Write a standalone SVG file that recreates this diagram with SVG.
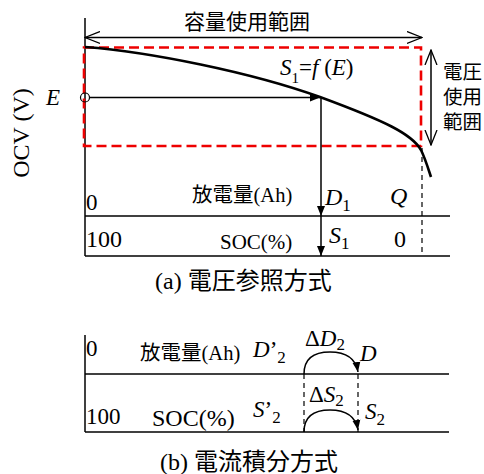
<svg xmlns="http://www.w3.org/2000/svg" width="484" height="474" viewBox="0 0 484 474">
<style>
text{font-family:'Liberation Serif','Times New Roman','DejaVu Serif','Noto Sans CJK JP',serif;fill:#000}
.it{font-style:italic}
.ln{stroke:#000;stroke-width:1.5;fill:none}
.dash{stroke:#000;stroke-width:1.2;stroke-dasharray:5,4;fill:none}
</style>
<defs>
<marker id="fa" viewBox="0 0 10 10" refX="10" refY="5" markerWidth="10" markerHeight="10" markerUnits="userSpaceOnUse" orient="auto"><path d="M0,1 L10,5 L0,9 z" fill="#000"/></marker>
<marker id="oa" viewBox="0 0 16 14" refX="15" refY="7" markerWidth="16" markerHeight="14" markerUnits="userSpaceOnUse" orient="auto"><path d="M0,1 L15,7 L0,13" fill="none" stroke="#000" stroke-width="1.3"/></marker>
<marker id="oas" viewBox="0 0 16 14" refX="15" refY="7" markerWidth="16" markerHeight="14" markerUnits="userSpaceOnUse" orient="auto-start-reverse"><path d="M0,1 L15,7 L0,13" fill="none" stroke="#000" stroke-width="1.3"/></marker>
</defs>
<g id="axis">
<line class="ln" x1="85" y1="18" x2="85" y2="256"/>
<text x="29" y="133" font-size="24" text-anchor="middle" transform="rotate(-90 29 133)">OCV (V)</text>
</g>
<g id="range-capacity">
<line class="ln" x1="85" y1="37.5" x2="422" y2="37.5" marker-start="url(#oas)" marker-end="url(#oa)"/>
<text x="247" y="29" font-size="21" text-anchor="middle">容量使用範囲</text>
</g>
<g id="range-voltage">
<line class="ln" x1="431" y1="50" x2="431" y2="145" marker-start="url(#oas)" marker-end="url(#oa)"/>
<text x="443" y="79" font-size="19.5">電圧</text>
<text x="443" y="104" font-size="19.5">使用</text>
<text x="443" y="129" font-size="19.5">範囲</text>
</g>
<g id="red-box">
<rect x="84" y="47.5" width="337" height="98.5" fill="none" stroke="#e00" stroke-width="2.6" stroke-dasharray="10,5"/>
</g>
<g id="curve">
<path d="M85,47 C150,52 250,72 320,97 C385,121 412,134 421,150 C425,158 428,168 431,177" fill="none" stroke="#000" stroke-width="2.6"/>
<text x="280" y="75" font-size="23"><tspan class="it">S</tspan><tspan font-size="15" dy="8">1</tspan><tspan dy="-8">=</tspan><tspan class="it">f</tspan> (<tspan class="it">E</tspan>)</text>
</g>
<g id="point-E">
<circle cx="85" cy="97.5" r="4.5" fill="none" stroke="#000" stroke-width="1.2"/>
<text x="46" y="105" font-size="23" class="it">E</text>
</g>
<g id="connectors">
<line class="ln" x1="89" y1="97.5" x2="320" y2="97.5" marker-end="url(#fa)"/>
<line class="ln" x1="321" y1="97.5" x2="321" y2="216" marker-end="url(#fa)"/>
<line class="ln" x1="321" y1="216" x2="321" y2="256" marker-end="url(#fa)"/>
<line class="dash" x1="422" y1="148" x2="422" y2="256"/>
<path class="ln" d="M304,374 C304,360 312,352 330,352 C348,352 356,360 358,372" marker-end="url(#fa)"/>
<path class="ln" d="M304,432 C304,418 312,410 330,410 C348,410 356,418 358,430" marker-end="url(#fa)"/>
<line class="dash" x1="304" y1="374" x2="304" y2="432"/>
<line class="dash" x1="358" y1="374" x2="358" y2="432"/>
</g>
<g id="table-a">
<line class="ln" x1="85" y1="216" x2="450" y2="216"/>
<line class="ln" x1="85" y1="256" x2="450" y2="256"/>
<text x="86" y="210" font-size="23">0</text>
<text x="192" y="202" font-size="20.5">放電量(Ah)</text>
<text x="325" y="205" font-size="24"><tspan class="it">D</tspan><tspan font-size="17" dy="6">1</tspan></text>
<text x="390" y="204" font-size="24" class="it">Q</text>
<text x="86" y="247" font-size="24">100</text>
<text x="220" y="249" font-size="21">SOC(%)</text>
<text x="329" y="243" font-size="24"><tspan class="it">S</tspan><tspan font-size="17" dy="6">1</tspan></text>
<text x="394" y="247" font-size="24">0</text>
<text x="155" y="289" font-size="24">(a) 電圧参照方式</text>
</g>
<g id="table-b">
<line class="ln" x1="85" y1="335" x2="85" y2="432"/>
<line class="ln" x1="85" y1="374" x2="449" y2="374"/>
<line class="ln" x1="85" y1="432" x2="449" y2="432"/>
<text x="86" y="356" font-size="23">0</text>
<text x="140" y="360" font-size="20.5">放電量(Ah)</text>
<text x="253" y="357" font-size="23"><tspan class="it">D</tspan>’<tspan font-size="17" dy="6">2</tspan></text>
<text x="305" y="346" font-size="23">Δ<tspan class="it">D</tspan><tspan font-size="17" dy="4">2</tspan></text>
<text x="360" y="361" font-size="23" class="it">D</text>
<text x="86" y="424" font-size="23">100</text>
<text x="152" y="426" font-size="24">SOC(%)</text>
<text x="253" y="417" font-size="23"><tspan class="it">S</tspan>’<tspan font-size="17" dy="6">2</tspan></text>
<text x="309" y="402" font-size="23">Δ<tspan class="it">S</tspan><tspan font-size="17" dy="4">2</tspan></text>
<text x="365" y="419" font-size="23"><tspan class="it">S</tspan><tspan font-size="17" dy="6">2</tspan></text>
<text x="160" y="470" font-size="24">(b) 電流積分方式</text>
</g>
</svg>
